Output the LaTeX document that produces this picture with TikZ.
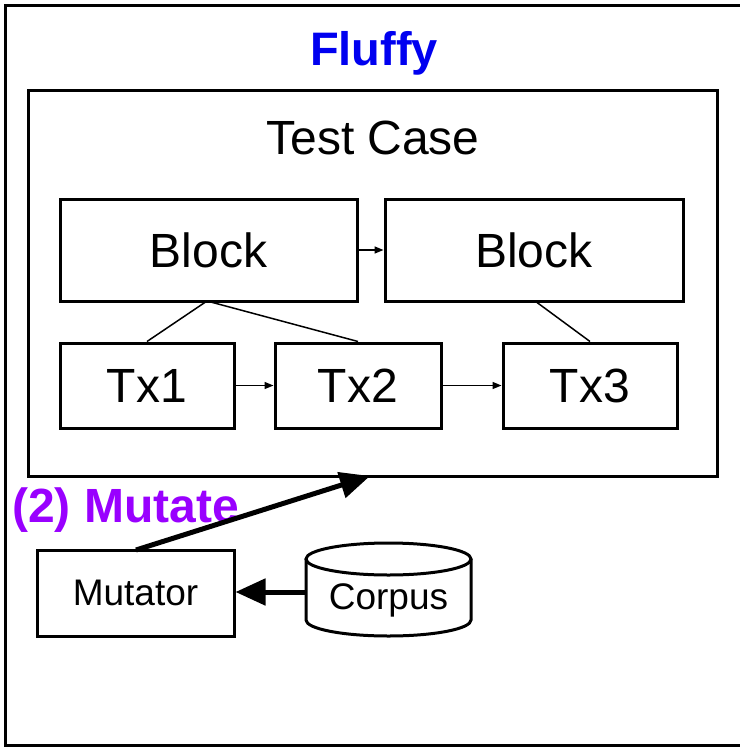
\documentclass[tikz,border=0pt]{standalone}
\usepackage{fontspec}
\setmainfont{Liberation Sans}
\usetikzlibrary{arrows.meta}
\definecolor{fluffyblue}{RGB}{0,0,240}
\definecolor{mutpurple}{RGB}{153,0,255}
\begin{document}
\begin{tikzpicture}[x=1pt,y=-1pt,
  box/.style={draw,line width=3pt,inner sep=0pt},
  link/.style={line width=1.5pt},
  smallarrow/.style={line width=1.5pt,-{Triangle[length=9pt,width=7pt]}},
  bigarrow/.style={line width=5pt,-{Triangle[length=30pt,width=26pt]}},
  lbl/.style={font=\fontsize{48}{48}\selectfont}]
  \useasboundingbox (0,0) rectangle (739,747);
  % outer frame (runs off the right edge)
  \draw[line width=3pt] (760,5) -- (5,5) -- (5,745) -- (760,745);
  \node[font=\fontsize{47}{47}\selectfont\bfseries,text=fluffyblue] (title) at (374,53) {Fluffy};
  % test case container
  \draw[box] (28,90) rectangle (717,476);
  \node[lbl] (tc) at (373,138) {Test Case};
  \node[box,minimum width=297pt,minimum height=102pt] (b1) at (208.5,250) {};
  \node[lbl] at (b1) {Block};
  \node[box,minimum width=298pt,minimum height=102pt] (b2) at (534,250) {};
  \node[lbl] at (b2) {Block};
  \node[box,minimum width=174pt,minimum height=85pt] (t1) at (147,385.5) {};
  \node[lbl] at (t1) {Tx1};
  \node[box,minimum width=166pt,minimum height=85pt] (t2) at (358,385.5) {};
  \node[lbl] at (t2) {Tx2};
  \node[box,minimum width=174pt,minimum height=85pt] (t3) at (590,385.5) {};
  \node[lbl] at (t3) {Tx3};
  \draw[smallarrow] (b1.east) -- (b2.west);
  \draw[smallarrow] (t1.east) -- (t2.west);
  \draw[smallarrow] (t2.east) -- (t3.west);
  \coordinate (b1foot) at (207,301);
  \coordinate (b2foot) at (535,301);
  \draw[link] (b1foot) -- (t1.north);
  \draw[link] (b1foot) -- (t2.north);
  \draw[link] (b2foot) -- (t3.north);
  % mutation stage
  \node[font=\fontsize{48}{48}\selectfont\bfseries,text=mutpurple,anchor=base west,inner sep=0pt] (mut) at (12,522) {(2) Mutate};
  \node[box,minimum width=197pt,minimum height=86pt] (mutator) at (135.5,593) {};
  \node[font=\fontsize{37}{37}\selectfont] at (mutator) {Mutator};
  % corpus cylinder
  \draw[line width=3pt,fill=white] (306,559) -- (306,620) arc[start angle=180,end angle=0,x radius=82.5,y radius=16] -- (471,559);
  \draw[line width=3pt] (388.5,559) ellipse[x radius=82.5,y radius=16];
  \node[font=\fontsize{37}{37}\selectfont,minimum width=165pt,minimum height=66pt,inner sep=0pt] (corpus) at (388.5,600) {Corpus};
  \coordinate (mtop) at (136,550);
  \coordinate (tcbottom) at (370,476);
  \draw[bigarrow] (mtop) -- (tcbottom);
  \draw[bigarrow] (corpus.west |- 0,592) -- (mutator.east |- 0,592);
\end{tikzpicture}
\end{document}
